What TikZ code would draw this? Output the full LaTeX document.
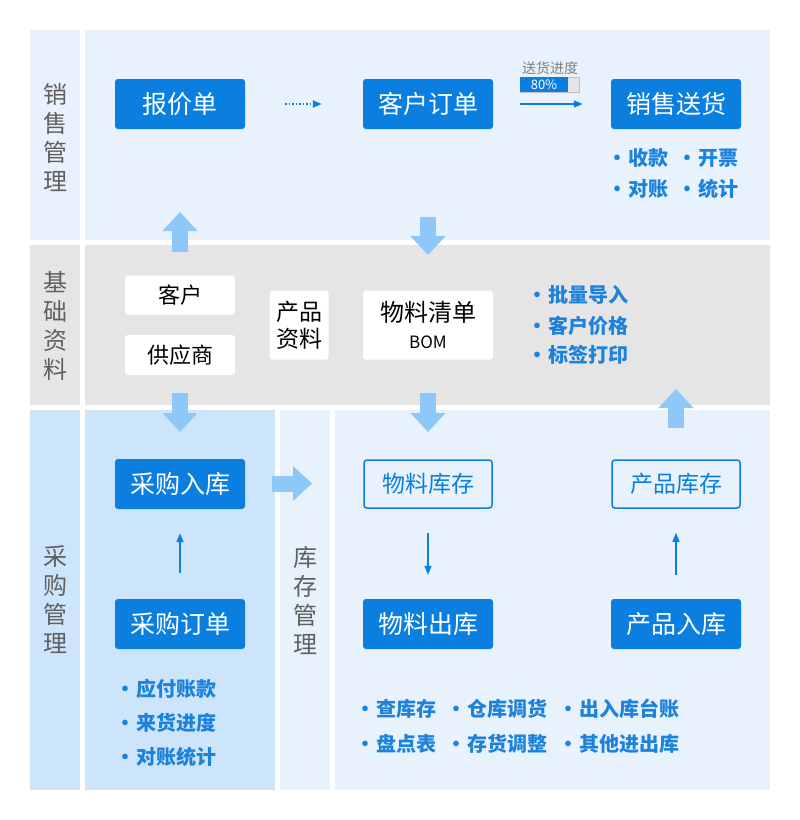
\documentclass[tikz,border=0pt]{standalone}
\usepackage{fontspec}
\setmainfont{Noto Sans CJK SC}
\usepackage{tikz}
\usetikzlibrary{positioning,calc,arrows.meta}
\definecolor{boxblue}{HTML}{0A7FE0}
\definecolor{txtblue}{HTML}{1C82DC}
\definecolor{salesbg}{HTML}{E8F2FC}
\definecolor{basebg}{HTML}{E5E5E5}
\definecolor{buybg}{HTML}{CCE5FA}
\definecolor{fatblue}{HTML}{8EC8F8}
\definecolor{labelgray}{HTML}{606060}
\newcommand{\dotitem}[1]{•\kern1pt #1}

\begin{document}
\begin{tikzpicture}[x=1pt,y=-1pt,
    bluebox/.style={fill=boxblue, text=white, rounded corners=3pt, minimum width=130pt, minimum height=50pt, inner sep=0pt, font=\fontsize{25}{25}\selectfont},
    linebox/.style={draw=boxblue, line width=1.5pt, fill=salesbg, text=boxblue, rounded corners=3pt, minimum width=128pt, minimum height=48pt, inner sep=0pt, font=\fontsize{23}{23}\selectfont},
    whitebox/.style={fill=white, rounded corners=3pt, inner sep=0pt, align=center, font=\fontsize{22}{27}\selectfont},
    bandlabel/.style={text=labelgray, align=center, font=\fontsize{24}{29}\selectfont},
    item/.style={text=txtblue, anchor=west, inner sep=0pt, font=\fontsize{20}{20}\selectfont\bfseries},
    fat/.style={fatblue, line width=16pt, -{Triangle[width=34pt,length=19pt]}},
    thin/.style={boxblue, line width=1.5pt, -{Triangle[width=7pt,length=9pt]}}]
    \useasboundingbox (0,0) rectangle (800,820);
    \fill[white] (0,0) rectangle (800,820);

    % bands
    \fill[salesbg] (30,30) rectangle (80,240);
    \fill[salesbg] (85,30) rectangle (770,240);
    \fill[basebg] (30,245) rectangle (80,405);
    \fill[basebg] (85,245) rectangle (770,405);
    \fill[buybg] (30,410) rectangle (80,790);
    \fill[buybg] (85,410) rectangle (275,790);
    \fill[salesbg] (280,410) rectangle (330,790);
    \fill[salesbg] (335,410) rectangle (770,790);

    \node[bandlabel] (salesLbl) at (55,137) {销\\售\\管\\理};
    \node[bandlabel] (baseLbl) at (55,326) {基\\础\\资\\料};
    \node[bandlabel] (buyLbl) at (55,600) {采\\购\\管\\理};
    \node[bandlabel] (stockLbl) at (305,600) {库\\存\\管\\理};

    % sales
    \node[bluebox] (quote) at (180,104) {报价单};
    \node[bluebox] (order) at (428,104) {客户订单};
    \node[bluebox] (ship) at (676,104) {销售送货};
    \draw[thin, dotted, shorten <=40pt, shorten >=41pt] (quote) -- (order);
    \draw[thin, shorten <=27pt, shorten >=28pt] (order) -- (ship);

    \node[text=gray, font=\fontsize{14}{14}\selectfont] (progress) at (550,68) {送货进度};
    \draw[gray!50, fill=basebg] (520,77) rectangle (579,92);
    \fill[boxblue] (520,77) rectangle (568,92);
    \node[text=white, font=\fontsize{13}{13}\selectfont] (pct) at (544,84.5) {80\%};

    \node[item] (recv) at (607,158) {\dotitem{收款}};
    \node[item] (invc) at (677,158) {\dotitem{开票}};
    \node[item] (chk) at (607,189) {\dotitem{对账}};
    \node[item] (stat) at (677,189) {\dotitem{统计}};

    % base data
    \node[whitebox, minimum width=110pt, minimum height=39pt] (cust) at (180,295) {客户};
    \node[whitebox, minimum width=110pt, minimum height=40pt] (supp) at (180,355) {供应商};
    \node[whitebox, minimum width=59pt, minimum height=69pt, font=\fontsize{23}{27}\selectfont] (prod) at (299,325) {产品\\资料};
    \node[whitebox, minimum width=130pt, minimum height=69pt] (bom) at (428,325)
        {{\fontsize{24}{28}\selectfont 物料清单}\\{\fontsize{17}{20}\selectfont BOM}};

    \node[item] (imp) at (527,295) {\dotitem{批量导入}};
    \node[item] (price) at (527,326) {\dotitem{客户价格}};
    \node[item] (label) at (527,355) {\dotitem{标签打印}};

    % purchase
    \node[bluebox] (pin) at (180,484) {采购入库};
    \node[bluebox] (porder) at (180,624) {采购订单};
    \draw[thin, shorten <=26pt, shorten >=24pt] (porder) -- (pin);

    \node[item] (pay) at (115,689) {\dotitem{应付账款}};
    \node[item] (arrive) at (115,723) {\dotitem{来货进度}};
    \node[item] (pchk) at (115,757) {\dotitem{对账统计}};

    % stock
    \node[linebox] (mstock) at (428,484) {物料库存};
    \node[linebox] (pstock) at (676,484) {产品库存};
    \node[bluebox] (mout) at (428,624) {物料出库};
    \node[bluebox] (prodin) at (676,624) {产品入库};
    \draw[thin, shorten <=24pt, shorten >=24pt] (mstock) -- (mout);
    \draw[thin, shorten <=24pt, shorten >=24pt] (prodin) -- (pstock);

    \node[item] (query) at (355,709) {\dotitem{查库存}};
    \node[item] (move) at (446,709) {\dotitem{仓库调货}};
    \node[item] (ledger) at (558,709) {\dotitem{出入库台账}};
    \node[item] (count) at (355,744) {\dotitem{盘点表}};
    \node[item] (adjust) at (446,744) {\dotitem{存货调整}};
    \node[item] (other) at (558,744) {\dotitem{其他进出库}};

    % band arrows
    \coordinate (upA) at (180,252);
    \coordinate (upAend) at (180,212);
    \coordinate (downB) at (428,217);
    \coordinate (downBend) at (428,255);
    \coordinate (downC) at (180,393);
    \coordinate (downCend) at (180,432);
    \coordinate (downD) at (428,393);
    \coordinate (downDend) at (428,432);
    \coordinate (upE) at (676,428);
    \coordinate (upEend) at (676,389);
    \coordinate (rightF) at (272,483.5);
    \coordinate (rightFend) at (312,483.5);
    \draw[fat] (upA) -- (upAend);
    \draw[fat] (downB) -- (downBend);
    \draw[fat] (downC) -- (downCend);
    \draw[fat] (downD) -- (downDend);
    \draw[fat] (upE) -- (upEend);
    \draw[fat] (rightF) -- (rightFend);
\end{tikzpicture}
\end{document}
